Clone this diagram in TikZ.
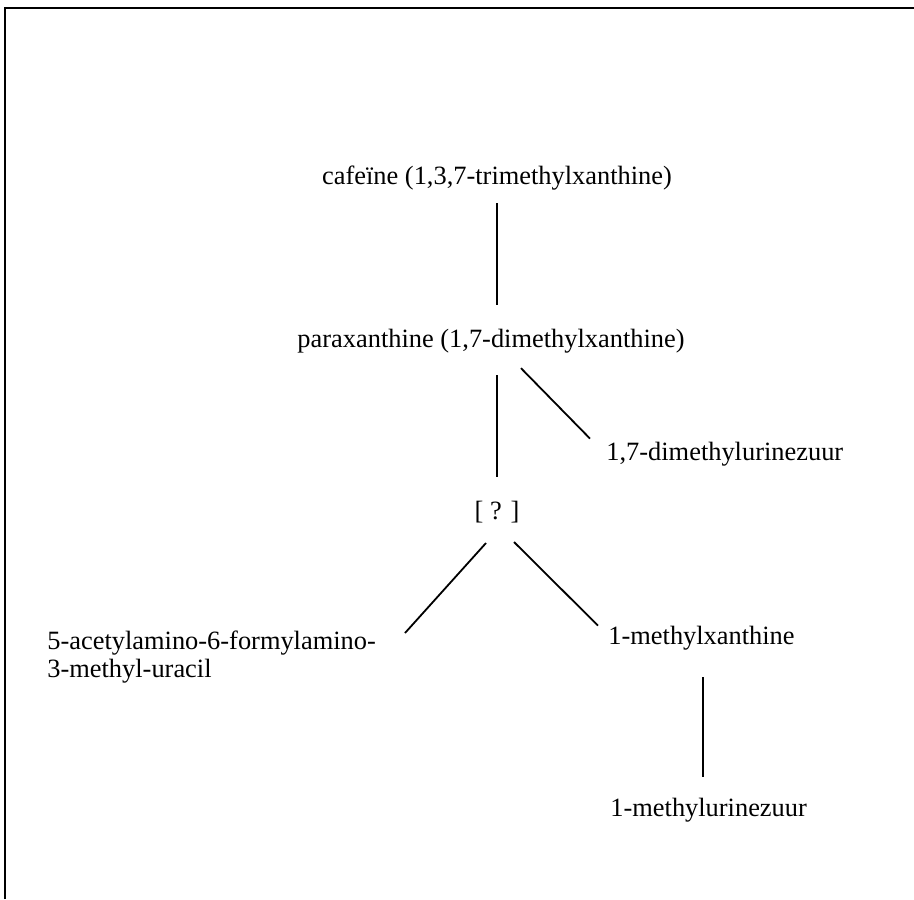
\documentclass[tikz,border=0pt]{standalone}
\usepackage{fontspec}
\setmainfont{Liberation Serif}
\usetikzlibrary{positioning}

\begin{document}
\begin{tikzpicture}[x=0.5pt, y=-0.5pt]
	\tikzstyle{chem} = [inner sep=0pt, font=\fontsize{13.2}{14}\selectfont]
	\tikzstyle{oneline} = [chem, text height=9.9pt, text depth=3.3pt]
	\tikzstyle{line} = [draw, line width=0.9pt]
	\tikzstyle{frame} = [draw, line width=1.4pt]

	\useasboundingbox (0,0) rectangle (914,899);
	\path [frame] (5,899) -- (5,8) -- (914,8);

	\node [oneline] (caf) at (497,178) {cafeïne (1,3,7-trimethylxanthine)};
	\node [oneline, below=67.8pt of caf, xshift=-3pt] (para) {paraxanthine (1,7-dimethylxanthine)};
	\node [oneline, below=72.3pt of para, xshift=3pt] (qm) {[ ? ]};
	\node [oneline, anchor=west] (dmu) at (606,454) {1,7-dimethylurinezuur};
	\node [chem, anchor=north west, align=left] (acet) at (47,631) {5-acetylamino-6-formylamino-\\3-methyl-uracil};
	\node [oneline, anchor=west] (mx) at (608,638) {1-methylxanthine};
	\node [oneline, anchor=west] (mu) at (610,810) {1-methylurinezuur};

	\path [line] ([yshift=-5.9pt]caf.south) -- ([yshift=10.9pt]caf.south |- para.north);
	\path [line] ([yshift=-10.4pt]qm.north |- para.south) -- ([yshift=10.9pt]qm.north);
	\path [line] ([xshift=15pt, yshift=-6.9pt]para.south) -- ([xshift=-8pt, yshift=0.9pt]dmu.north west);
	\path [line] ([xshift=-5.5pt, yshift=-8.4pt]qm.south) -- ([xshift=179pt, yshift=-1pt]acet.north west);
	\path [line] ([xshift=8.5pt, yshift=-7.9pt]qm.south) -- ([xshift=-5pt, yshift=-0.6pt]mx.north west);
	\path [line] ([xshift=47.5pt, yshift=-12.9pt]mx.south west) -- ([xshift=46.5pt, yshift=9.9pt]mu.north west);
\end{tikzpicture}
\end{document}
